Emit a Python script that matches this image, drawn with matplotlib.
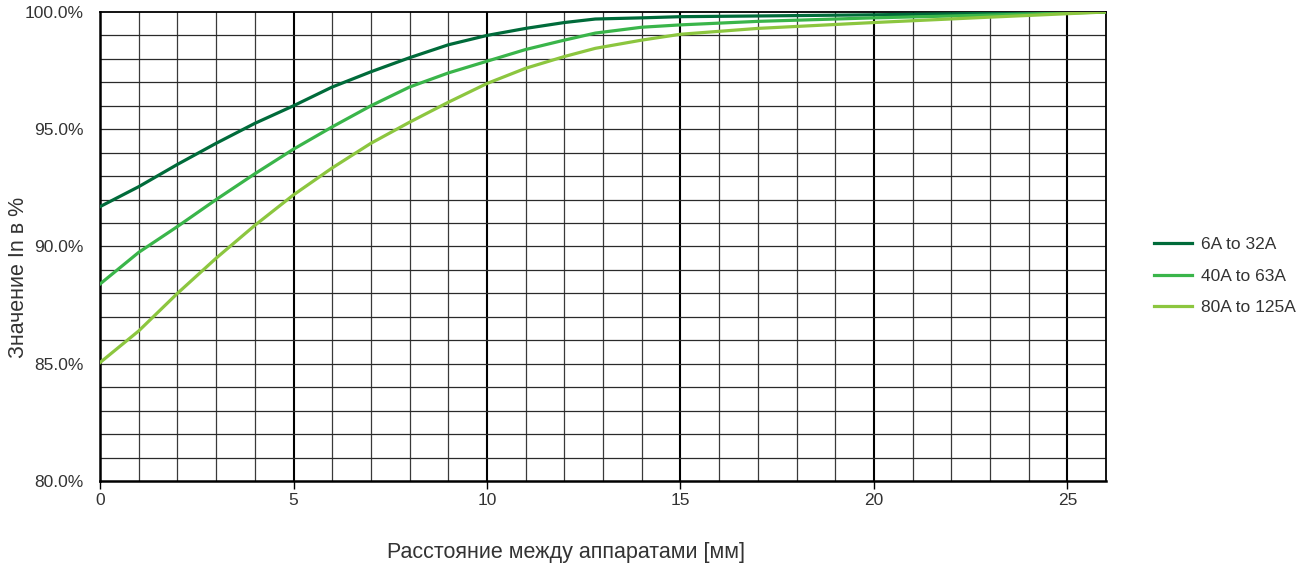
import numpy as np
from matplotlib import pyplot as plt

plt.rcParams['font.family'] = ['Liberation Sans', 'DejaVu Sans']

#-----------------------------------------------------------------------------------------

dist = [0, 1, 2, 3, 4, 5, 6, 7, 8, 9, 10, 11, 12, 12.8, 14, 15, 17, 20, 23, 26]

val_6_32 = [91.7, 92.55, 93.5, 94.4, 95.25, 96.0, 96.8, 97.45, 98.05, 98.6, 99.0,
            99.3, 99.55, 99.7, 99.75, 99.8, 99.83, 99.88, 99.94, 100.0]
val_40_63 = [88.4, 89.75, 90.85, 92.0, 93.1, 94.15, 95.1, 96.0, 96.8, 97.4, 97.9,
             98.4, 98.8, 99.1, 99.35, 99.45, 99.6, 99.75, 99.87, 100.0]
val_80_125 = [85.05, 86.4, 88.0, 89.5, 90.9, 92.2, 93.35, 94.4, 95.3, 96.15, 96.95,
              97.6, 98.1, 98.45, 98.8, 99.05, 99.3, 99.55, 99.78, 100.0]

labels = ["6A to 32A", "40A to 63A", "80A to 125A"]
colors = ["#006b3a", "#3ab54a", "#8cc63f"]

#-----------------------------------------------------------------------------------------

fig = plt.figure(figsize=(13.06, 5.68), dpi=100)
ax = fig.add_axes([0.0766, 0.1532, 0.7703, 0.8257])

# grid: every 1 mm / 1 %, thicker at every 5 mm
for xv in range(1, 26):
    if xv % 5 == 0:
        ax.axvline(xv, color='black', lw=1.5, zorder=1)
    else:
        ax.axvline(xv, color='#3a3a3a', lw=0.9, zorder=1)
for yv in range(81, 100):
    ax.axhline(yv, color='#2a2a2a', lw=0.9, zorder=1)

for vals, lab, col in zip([val_6_32, val_40_63, val_80_125], labels, colors):
    ax.plot(dist, vals, color=col, lw=2.3, label=lab, zorder=3)

ax.set_xlim(0, 26)
ax.set_ylim(80, 100)
ax.set_xticks([0, 5, 10, 15, 20, 25])
ax.set_yticks([80, 85, 90, 95, 100])
ax.set_yticklabels(["80.0%", "85.0%", "90.0%", "95.0%", "100.0%"])
ax.tick_params(axis='x', length=6, width=1, direction='out', colors='black',
               labelcolor='#333333', labelsize=12.5, pad=3)
ax.tick_params(axis='y', length=0, labelcolor='#333333', labelsize=12.5, pad=12)

for side in ['left', 'bottom']:
    ax.spines[side].set_linewidth(1.8)
for side in ['top', 'right']:
    ax.spines[side].set_linewidth(1.3)

fig.text(0.4334, 0.028, "Расстояние между аппаратами [мм]", ha='center', va='center',
         fontsize=15.5, color='#333333')
fig.text(0.014, 0.511, "Значение In в %", ha='center', va='center', rotation=90,
         fontsize=15.5, color='#333333')

ax.legend(loc='center left', bbox_to_anchor=(1.032, 0.437), frameon=False, fontsize=12.5,
          handlelength=2.2, labelspacing=0.95, handletextpad=0.5, labelcolor='#333333')

fig.savefig("out.png", dpi=100)
